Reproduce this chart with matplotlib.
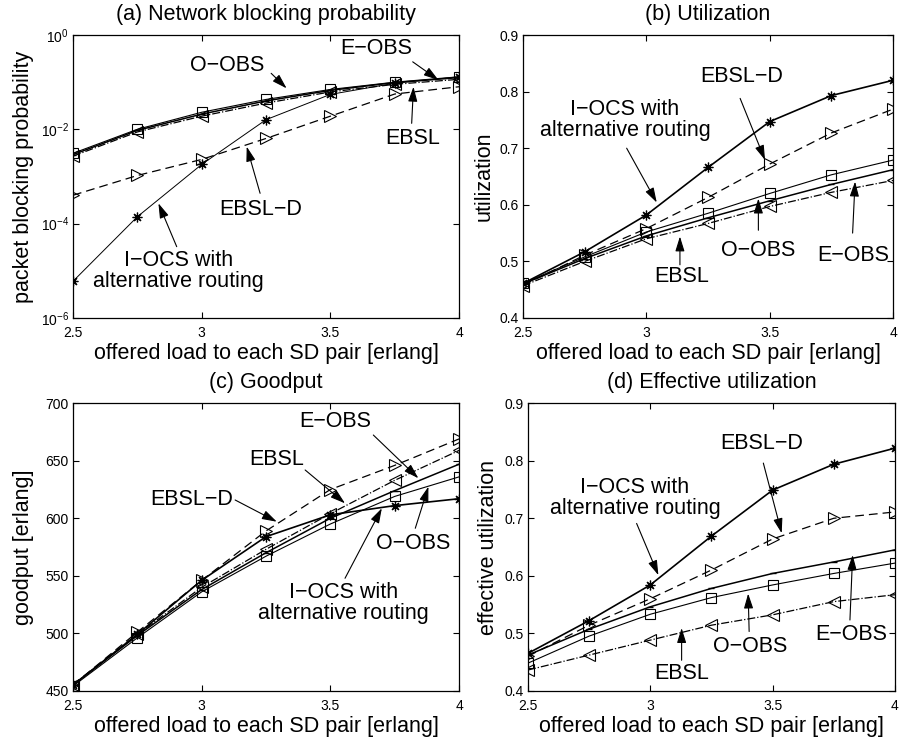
import numpy as np
import matplotlib
matplotlib.use('Agg')
import matplotlib.pyplot as plt

plt.rcParams['font.family'] = ['Liberation Sans', 'DejaVu Sans']
plt.rcParams['mathtext.fontset'] = 'custom'
plt.rcParams['mathtext.rm'] = 'Liberation Sans'
plt.rcParams['mathtext.it'] = 'Liberation Sans:italic'

# offered load to each SD pair [erlang]
load = [2.5, 2.75, 3.0, 3.25, 3.5, 3.75, 4.0]

# (a) network blocking probability
iocs_a = [6e-6, 1.4e-4, 1.8e-3, 1.6e-2, 5.5e-2, 9.5e-2, 1.3e-1]
ebsld_a = [4.0e-4, 1.05e-3, 2.3e-3, 6.4e-3, 1.9e-2, 5.6e-2, 8.0e-2]
oobs_a = [3.1e-3, 1.0e-2, 2.3e-2, 4.3e-2, 7.0e-2, 1.0e-1, 1.3e-1]
eobs_a = [2.9e-3, 9.5e-3, 2.1e-2, 4.0e-2, 6.7e-2, 9.8e-2, 1.25e-1]
ebsl_a = [2.7e-3, 8.8e-3, 1.9e-2, 3.6e-2, 6.2e-2, 9.0e-2, 1.15e-1]

# (b) utilization
iocs_b = [0.461, 0.517, 0.582, 0.666, 0.747, 0.793, 0.820]
ebsld_b = [0.458, 0.511, 0.558, 0.613, 0.672, 0.727, 0.769]
oobs_b = [0.461, 0.508, 0.552, 0.585, 0.620, 0.653, 0.679]
eobs_b = [0.460, 0.505, 0.545, 0.577, 0.607, 0.636, 0.662]
ebsl_b = [0.457, 0.500, 0.540, 0.567, 0.597, 0.622, 0.643]

# (c) goodput
iocs_c = [455, 499, 546, 584, 603, 611, 617]
ebsld_c = [455, 501, 546, 589, 625, 646, 669]
oobs_c = [454, 496, 536, 567, 595, 619, 636]
eobs_c = [455, 498, 538, 570, 600, 624, 647]
ebsl_c = [455, 499, 540, 573, 604, 633, 659]

# (d) effective utilization
iocs_d = [0.465, 0.522, 0.584, 0.669, 0.749, 0.794, 0.822]
ebsld_d = [0.460, 0.514, 0.560, 0.610, 0.664, 0.700, 0.711]
eobs_d = [0.462, 0.507, 0.546, 0.578, 0.604, 0.624, 0.645]
oobs_d = [0.448, 0.495, 0.533, 0.562, 0.584, 0.604, 0.622]
ebsl_d = [0.436, 0.462, 0.488, 0.514, 0.532, 0.555, 0.567]

M = '\u2212'
IOCS = 'I' + M + 'OCS with\nalternative routing'
BIG = 15.5
SMALL = 10

fig = plt.figure(figsize=(8.99, 7.40), dpi=100)
axa = fig.add_axes([0.0812, 0.5703, 0.4294, 0.3824])
axb = fig.add_axes([0.5818, 0.5703, 0.4116, 0.3824])
axc = fig.add_axes([0.0812, 0.0666, 0.4294, 0.3884])
axd = fig.add_axes([0.5873, 0.0666, 0.4082, 0.3884])


def draw(ax, iocs, ebsld, oobs, eobs, ebsl, lw_iocs=1.2):
    ax.plot(load, iocs, 'k-', marker=(8, 2, 0), ms=7, lw=lw_iocs, mew=0.9)
    ax.plot(load, ebsld, 'k--', marker='>', ms=8, mfc='none', lw=0.9, mew=0.8,
            dashes=(7, 4))
    ax.plot(load, oobs, 'k-', marker='s', ms=7, mfc='none', lw=0.8, mew=0.8)
    ax.plot(load, eobs, 'k-', marker='_', ms=5, lw=1.1, mew=1.0)
    ax.plot(load, ebsl, 'k-.', marker='<', ms=8, mfc='none', lw=0.9, mew=0.8)


def note(ax, text, txy, tail, tip):
    ax.text(txy[0], txy[1], text, ha='center', va='center', fontsize=BIG,
            linespacing=1.0)
    ax.annotate('', xy=tip, xytext=tail,
                arrowprops=dict(arrowstyle='-|>,head_length=0.9,head_width=0.28',
                                color='k', lw=0.8, shrinkA=0, shrinkB=0))


def style(ax, title, ylabel, ylim, yticks, ylab_x):
    ax.set_xlim(2.5, 4)
    ax.set_ylim(*ylim)
    ax.set_xticks([2.5, 3, 3.5, 4])
    ax.set_xticklabels(['2.5', '3', '3.5', '4'])
    ax.set_yticks(yticks)
    ax.minorticks_off()
    ax.tick_params(direction='in', top=True, right=True, length=4,
                   labelsize=SMALL, width=0.8)
    ax.tick_params(axis='x', pad=6)
    ax.tick_params(axis='y', pad=3)
    ax.set_title(title, fontsize=BIG, pad=11)
    ax.set_xlabel('offered load to each SD pair [erlang]', fontsize=BIG, labelpad=2)
    ax.set_ylabel(ylabel, fontsize=BIG)
    ax.yaxis.set_label_coords(ylab_x, 0.5)
    for s in ax.spines.values():
        s.set_linewidth(0.9)


# (a)
axa.set_yscale('log')
draw(axa, iocs_a, ebsld_a, oobs_a, eobs_a, ebsl_a, lw_iocs=0.7)
style(axa, '(a) Network blocking probability', 'packet blocking probability',
      (1e-6, 1), [1e-6, 1e-4, 1e-2, 1], -0.101)
note(axa, 'O' + M + 'OBS', (3.10, 0.23), (3.27, 0.154), (3.33, 0.074))
note(axa, 'E' + M + 'OBS', (3.68, 0.52), (3.82, 0.27), (3.92, 0.111))
note(axa, 'EBSL', (3.82, 0.0065), (3.816, 0.0134), (3.823, 0.080))
note(axa, 'EBSL' + M + 'D', (3.23, 1.95e-4), (3.227, 4.4e-4), (3.175, 4.3e-3))
note(axa, IOCS, (2.91, 1.0e-5), (2.903, 3.25e-5), (2.832, 2.7e-4))

# (b)
draw(axb, iocs_b, ebsld_b, oobs_b, eobs_b, ebsl_b)
style(axb, '(b) Utilization', 'utilization', (0.4, 0.9),
      [0.4, 0.5, 0.6, 0.7, 0.8, 0.9], -0.078)
note(axb, 'EBSL' + M + 'D', (3.386, 0.826), (3.38, 0.788), (3.481, 0.679))
note(axb, IOCS, (2.913, 0.750), (2.92, 0.700), (3.042, 0.604))
note(axb, 'EBSL', (3.143, 0.473), (3.136, 0.494), (3.136, 0.544))
note(axb, 'O' + M + 'OBS', (3.454, 0.520), (3.454, 0.555), (3.454, 0.611))
note(axb, 'E' + M + 'OBS', (3.839, 0.511), (3.836, 0.550), (3.846, 0.641))

# (c)
draw(axc, iocs_c, ebsld_c, oobs_c, eobs_c, ebsl_c)
style(axc, '(c) Goodput', 'goodput [erlang]', (450, 700),
      [450, 500, 550, 600, 650, 700], -0.101)
note(axc, 'E' + M + 'OBS', (3.518, 684), (3.667, 672.4), (3.842, 634.8))
note(axc, 'EBSL', (3.292, 650.7), (3.402, 642), (3.557, 613))
note(axc, 'EBSL' + M + 'D', (2.961, 615.9), (3.13, 615.9), (3.292, 597))
note(axc, 'O' + M + 'OBS', (3.823, 578.2), (3.83, 591.3), (3.881, 627.5))
note(axc, IOCS, (3.55, 526), (3.557, 547.8), (3.70, 608.7))

# (d)
draw(axd, iocs_d, ebsld_d, oobs_d, eobs_d, ebsl_d)
style(axd, '(d) Effective utilization', 'effective utilization', (0.4, 0.9),
      [0.4, 0.5, 0.6, 0.7, 0.8, 0.9], -0.079)
note(axd, 'EBSL' + M + 'D', (3.455, 0.830), (3.462, 0.796), (3.537, 0.674))
note(axd, IOCS, (2.937, 0.735), (2.944, 0.691), (3.033, 0.601))
note(axd, 'EBSL', (3.128, 0.430), (3.128, 0.453), (3.128, 0.509))
note(axd, 'O' + M + 'OBS', (3.407, 0.477), (3.404, 0.503), (3.40, 0.569))
note(axd, 'E' + M + 'OBS', (3.823, 0.497), (3.816, 0.523), (3.827, 0.636))

fig.savefig('out.png', dpi=100)
